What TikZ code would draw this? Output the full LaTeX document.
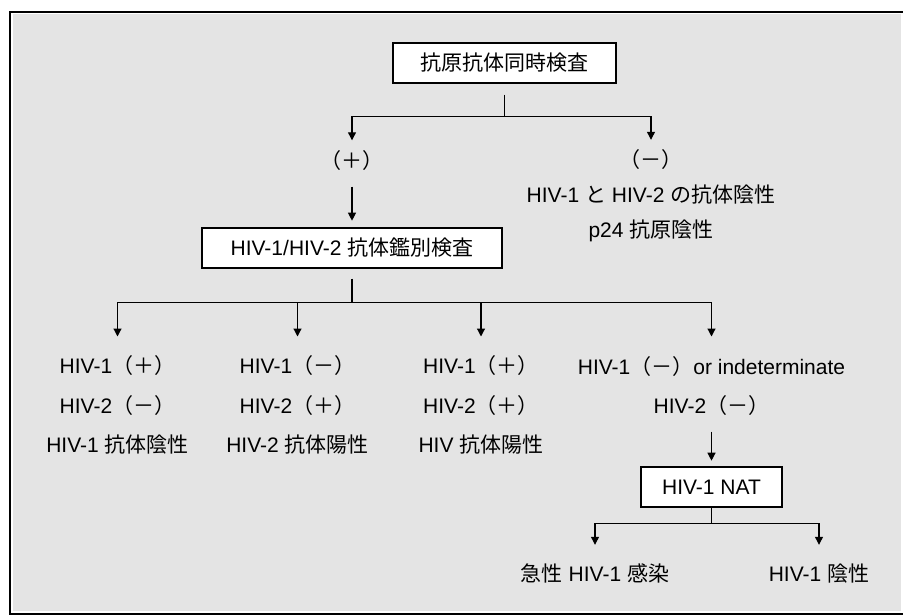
\documentclass[tikz,border=0pt]{standalone}
\usepackage{fontspec}
\setmainfont{Liberation Sans}
\newfontfamily\jpfont{Noto Sans CJK JP}
\newcommand{\J}[1]{{\jpfont #1}}
\usetikzlibrary{arrows.meta}
\definecolor{bggray}{RGB}{228,228,228}
\begin{document}
\begin{tikzpicture}[x=1pt,y=-1pt,
  every node/.style={font=\fontsize{21}{25}\selectfont},
  txt/.style={inner sep=0pt, anchor=base, text height=15pt, text depth=4pt},
  box/.style={draw, line width=1.4pt, fill=white, inner sep=0pt, minimum height=40pt},
  conn/.style={line width=1.2pt},
  arr/.style={conn, -{Triangle[width=8pt,length=8pt]}}]
\useasboundingbox (0,0) rectangle (903,615);
\fill[white] (0,0) rectangle (903,615);
\fill[bggray] (12.5,14.5) rectangle (901,611);
\draw[line width=2.3pt] (903,12) -- (9.9,12) -- (9.9,614) -- (903,614);

% boxes
\node[box, minimum width=223pt] (top) at (504.5,63) {\J{抗原抗体同時検査}};
\node[box, minimum width=300pt] (dif) at (352,248) {HIV-1/HIV-2 \J{抗体鑑別検査}};
\node[box, minimum width=141pt] (nat) at (711.5,487) {HIV-1 NAT};

% first level results
\node[txt] (plus) at (352,168.5) {\J{（＋）}};
\node[txt] (minus) at (651,167.5) {\J{（－）}};
\node[txt] (m2) at (651,203) {HIV-1 \J{と} HIV-2 \J{の抗体陰性}};
\node[txt] (m3) at (651,237.5) {p24 \J{抗原陰性}};

% columns
\node[txt] (c1a) at (117.5,373.5) {HIV-1\J{（＋）}};
\node[txt] (c1b) at (117.5,413) {HIV-2\J{（－）}};
\node[txt] (c1c) at (117.5,452.5) {HIV-1 \J{抗体陰性}};
\node[txt] (c2a) at (297.5,373.5) {HIV-1\J{（－）}};
\node[txt] (c2b) at (297.5,413) {HIV-2\J{（＋）}};
\node[txt] (c2c) at (297.5,452.5) {HIV-2 \J{抗体陽性}};
\node[txt] (c3a) at (481,373.5) {HIV-1\J{（＋）}};
\node[txt] (c3b) at (481,413) {HIV-2\J{（＋）}};
\node[txt] (c3c) at (481,452.5) {HIV \J{抗体陽性}};
\node[txt] (c4a) at (711.5,374.5) {HIV-1\J{（－）}or indeterminate};
\node[txt] (c4b) at (711.5,413.5) {HIV-2\J{（－）}};

% bottom results
\node[txt] (r1) at (595,581.5) {\J{急性} HIV-1 \J{感染}};
\node[txt] (r2) at (819,581.5) {HIV-1 \J{陰性}};

% connectors
\coordinate (j1) at ([yshift=-33pt]top.south);
\draw[conn] ([yshift=-11pt]top.south) -- (j1);
\draw[arr, shorten >=13pt] (j1) -| (plus.north);
\draw[arr, shorten >=12.5pt] (j1) -| (minus.north);
\draw[arr, shorten <=14pt, shorten >=6.6pt] (plus.south) -- (dif.north);

\coordinate (j2) at ([yshift=-34pt]dif.south);
\draw[conn] ([yshift=-10pt]dif.south) -- (j2);
\draw[arr, shorten >=21.8pt] (j2) -| (c1a.north);
\draw[arr, shorten >=21.8pt] (j2) -| (c2a.north);
\draw[arr, shorten >=21.8pt] (j2) -| (c3a.north);
\draw[arr, shorten >=22.8pt] (j2) -| (c4a.north);

\draw[arr, shorten <=14pt, shorten >=5.6pt] (c4b.south) -- (nat.north);
\coordinate (j3) at ([yshift=-16pt]nat.south);
\draw[conn] (nat.south) -- (j3);
\draw[arr, shorten >=21.5pt] (j3) -| (r1.north);
\draw[arr, shorten >=21.5pt] (j3) -| (r2.north);
\end{tikzpicture}
\end{document}
